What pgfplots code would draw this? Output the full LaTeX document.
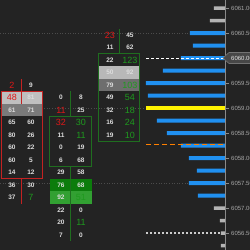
\documentclass[border=0pt]{standalone}
\usepackage{pgfplots}
\pgfplotsset{compat=1.18}
\usepackage{pgfplotstable}
\usepackage{fontspec}
\setmainfont{Liberation Sans}
\definecolor{bg}{HTML}{232323}
\definecolor{cred}{HTML}{E01818}
\definecolor{cgreen}{HTML}{1E9A1E}
\definecolor{bred}{HTML}{C42222}
\definecolor{bgreen}{HTML}{1F6E1F}
\definecolor{vblue}{HTML}{2090F0}
\definecolor{vgray}{HTML}{B4B4B4}
\definecolor{wtxt}{HTML}{DCDCDC}
\definecolor{axgray}{HTML}{8A8A8A}

% footprint numbers: x (pixel), price, text
\pgfplotstableread{
x p t
31 6059.50 9
31 6059.25 81
12 6059.00 61
31 6059.00 71
12 6058.75 65
31 6058.75 60
12 6058.50 80
31 6058.50 26
12 6058.25 60
31 6058.25 22
12 6058.00 60
31 6058.00 5
12 6057.75 14
31 6057.75 12
12 6057.50 36
31 6057.50 30
12 6057.25 37
61 6059.25 0
81 6059.25 8
81 6059.00 25
61 6058.50 11
61 6058.25 0
81 6058.25 19
61 6058.00 6
81 6058.00 68
61 6057.75 29
81 6057.75 58
61 6057.50 76
81 6057.50 68
61 6057.25 92
61 6057.00 22
81 6057.00 0
61 6056.75 20
61 6056.50 7
81 6056.50 0
130 6060.50 45
110 6060.25 11
130 6060.25 62
110 6060.00 22
110 6059.75 50
130 6059.75 92
110 6059.50 79
110 6059.25 49
110 6059.00 32
110 6058.75 16
110 6058.50 19
}\whitetab

\pgfplotstableread{
x p t
12 6059.50 2
12 6059.25 48
61 6059.00 11
61 6058.75 32
110 6060.50 23
}\redtab

\pgfplotstableread{
x p t
31 6057.25 7
81 6058.75 30
81 6058.50 11
81 6057.25 51
81 6056.75 11
130 6060.00 123
130 6059.50 103
130 6059.25 54
130 6059.00 18
130 6058.75 24
130 6058.50 10
}\greentab

% volume profile: price, bar length from the price axis (pixels)
\pgfplotstableread{
p len
6060.50 35
6060.25 32
6060.00 44
6059.75 62
6059.50 79
6059.25 77
6058.75 68
6058.50 58
6058.25 44
6058.00 36
6057.75 28
6057.50 36
6057.25 27
}\bluetab
\pgfplotstableread{
p len
6061.00 11
6060.75 15
6057.00 11
6056.75 5
6056.50 4
6056.25 4
}\graytab
\pgfplotstableread{
p len
6059.00 79
}\yellowtab

\begin{document}
\begin{tikzpicture}[x=1pt,y=1pt]
\path[use as bounding box] (0,0) rectangle (250,250);
\clip (0,0) rectangle (250,250);
\fill[bg] (0,0) rectangle (250,250);
\begin{axis}[
  at={(0,0)}, anchor=south west,
  scale only axis, width=250pt, height=250pt,
  xmin=0, xmax=250, ymin=6056.16, ymax=6061.16,
  axis lines=none, clip=false,
  every node near coord/.append style={anchor=center, yshift=-2pt},
]
% dotted grid lines
\addplot[color=black!70!white, dotted, line width=0.6pt] coordinates {(0,6060.50) (225,6060.50)};
\addplot[color=black!70!white, dotted, line width=0.6pt] coordinates {(0,6059.00) (225,6059.00)};
\addplot[color=black!70!white, dotted, line width=0.6pt] coordinates {(0,6057.50) (225,6057.50)};
% cell highlights
\addplot[fill=black!25!white, draw=none] coordinates {(2,6059.335) (43,6059.335) (43,6059.085) (2,6059.085)} --cycle;
\addplot[fill=black!52!white, draw=none] coordinates {(2,6059.085) (43,6059.085) (43,6058.835) (2,6058.835)} --cycle;
\addplot[fill=black!28!white, draw=none] coordinates {(99,6059.835) (140,6059.835) (140,6059.585) (99,6059.585)} --cycle;
\addplot[fill=black!57!white, draw=none] coordinates {(99,6059.585) (140,6059.585) (140,6059.335) (99,6059.335)} --cycle;
\addplot[fill={rgb,255:red,12;green,124;blue,12}, draw=none] coordinates {(50,6057.585) (92,6057.585) (92,6057.335) (50,6057.335)} --cycle;
\addplot[fill={rgb,255:red,50;green,160;blue,50}, draw=none] coordinates {(50,6057.335) (92,6057.335) (92,6057.085) (50,6057.085)} --cycle;
% wicks
\addplot[bred, line width=1pt] coordinates {(22,6059.585) (22,6059.085)};
\addplot[bred, line width=1pt] coordinates {(22,6057.585) (22,6057.085)};
\addplot[bgreen, line width=1pt] coordinates {(71,6059.335) (71,6058.835)};
\addplot[bgreen, line width=1pt] coordinates {(71,6057.835) (71,6056.335)};
\addplot[bgreen, line width=1pt] coordinates {(120,6060.585) (120,6060.085)};
% bodies
\addplot[bred, line width=1pt] coordinates {(2,6059.335) (43,6059.335) (43,6057.585) (2,6057.585)} --cycle;
\addplot[bgreen, line width=1pt] coordinates {(50,6058.835) (92,6058.835) (92,6057.835) (50,6057.835)} --cycle;
\addplot[bgreen, line width=1pt] coordinates {(99,6060.085) (140,6060.085) (140,6058.335) (99,6058.335)} --cycle;
% numbers
\addplot[draw=none, nodes near coords, point meta=explicit symbolic,
  every node near coord/.append style={text=wtxt, font=\bfseries\fontsize{6.5}{7}\selectfont}]
  table[x=x, y=p, meta=t] {\whitetab};
\addplot[draw=none, nodes near coords, point meta=explicit symbolic,
  every node near coord/.append style={text=cred, font=\fontsize{9}{10}\selectfont}]
  table[x=x, y=p, meta=t] {\redtab};
\addplot[draw=none, nodes near coords, point meta=explicit symbolic,
  every node near coord/.append style={text=cgreen, font=\fontsize{9}{10}\selectfont}]
  table[x=x, y=p, meta=t] {\greentab};
\end{axis}
\begin{axis}[
  at={(0,0)}, anchor=south west,
  scale only axis, width=225pt, height=250pt,
  xmin=0, xmax=225, x dir=reverse, ymin=6056.16, ymax=6061.16,
  axis lines=none,
]
\addplot[xbar, bar shift=0pt, bar width=4pt, fill=vblue, draw=none] table[x=len, y=p] {\bluetab};
\addplot[xbar, bar shift=0pt, bar width=3.5pt, fill=vgray, draw=none] table[x=len, y=p] {\graytab};
\addplot[xbar, bar shift=0pt, bar width=4pt, fill=yellow, draw=none] table[x=len, y=p] {\yellowtab};
\end{axis}
\begin{axis}[
  at={(0,0)}, anchor=south west,
  scale only axis, width=250pt, height=250pt,
  xmin=0, xmax=250, ymin=6056.16, ymax=6061.16,
  axis lines=none, clip=false,
]
% reference lines
\addplot[white, dashed, dash pattern=on 3pt off 2pt, line width=1pt] coordinates {(146,6060.00) (225,6060.00)};
\addplot[orange, dash pattern=on 5pt off 3pt, line width=1.3pt] coordinates {(146,6058.27) (225,6058.27)};
\addplot[black!20!white, dash pattern=on 2pt off 2pt, line width=1.2pt] coordinates {(146,6056.50) (222,6056.50)};
% price axis
\addplot[axgray, line width=1pt] coordinates {(225,6056.16) (225,6061.16)};
\pgfplotsinvokeforeach{6061.00,6060.50,6059.50,6059.00,6058.50,6058.00,6057.50,6057.00,6056.50}{
  \addplot[axgray, line width=0.8pt] coordinates {(225,#1) (229,#1)};
  \node[anchor=west, text=black!35!white, font=\fontsize{6}{7}\selectfont, inner sep=0pt] at (axis cs:231,#1) {#1};
}
\addplot[fill=black!72!white, draw=black!55!white, line width=0.6pt] coordinates {(223,6060.00) (229,6060.11) (252,6060.11) (252,6059.89) (229,6059.89)} --cycle;
\node[anchor=west, text=black!10!white, font=\fontsize{6}{7}\selectfont, inner sep=0pt] at (axis cs:231,6060.00) {6060.00};
\end{axis}
\end{tikzpicture}
\end{document}
